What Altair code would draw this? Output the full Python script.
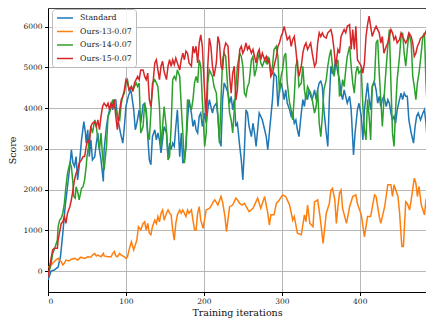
import altair as alt
import pandas as pd

series_names = ["Standard", "Ours-13-0.07", "Ours-14-0.07", "Ours-15-0.07"]
series_colors = ["#1f77b4", "#ff7f0e", "#2ca02c", "#d62728"]

std_x = [0,4,8,13,16,19,22,25,28,30,32,34,36,38,40,43,46,48,49,51,53,55,57,60,62,64,66,68,71,72,75,77,79,81,83,85,87,89,93,96,98,100,103,106,107,110,112,114,117,119,122,124,126,128,130,132,134,137,139,141,143,145,147,149,152,154,156,158,160,162,164,166,169,171,173,175,177,179,181,184,186,188,190,192,194,196,198,201,203,205,207,209,211,213,216,218,220,222,224,226,228,231,233,235,237,239,241,243,246,248,250,252,254,256,258,261,263,265,267,269,271,273,275,278,280,282,284,286,288,290,293,295,297,299,301,303,305,307,310,312,314,316,318,320,322,325,327,329,331,333,335,337,339,342,344,346,348,350,352,354,357,359,361,363,365,367,369,372,374,376,378,380,382,384,387,389,391,392,394,397,399,402,404,406,408,410,412,414,416,419,421,423,425,427,429,431,434,436,438,440,442,444,446,448,451,453,455,457,459,461,463,466,469,471,473,475,478,481,483,485,487,489,491,493]
std_y = [-220,0,25,100,350,930,1580,2070,2570,2980,2650,2570,2810,2240,2570,3220,3670,3390,3140,3470,2810,3220,2730,2810,3140,3390,2980,2730,2200,2980,3550,3800,3960,4120,3960,4200,4200,3800,3390,3140,3550,4040,4290,4450,4370,3960,3470,3630,3960,3630,4080,4120,3880,3300,2730,2610,3300,3470,3220,3390,3220,2900,3220,3550,3390,2810,3140,2980,3140,3060,3550,3960,2810,3390,2650,2730,3060,3710,4210,3880,3550,3710,3470,3390,3800,3880,3550,3880,3630,3960,4210,4040,3880,4040,4120,3800,3220,3060,4210,4620,4530,4370,4120,4290,3960,4210,3550,3630,3060,2730,2240,2980,3960,3880,3550,3300,3630,3390,3060,3470,3880,3800,3710,3470,3300,2980,3390,3800,4210,4860,4780,4040,4450,4620,4450,4210,4450,4120,3960,3800,3880,3630,3710,3470,3300,3880,4210,4040,4370,4210,4450,4290,4210,4450,4210,4450,4620,4660,4530,3960,3390,3060,4210,5030,4860,4900,5190,4860,4700,4370,4210,4450,4290,4120,4290,3960,3220,2850,3390,3960,4120,3800,3220,3960,4290,4620,4210,3960,4530,4620,4450,4120,4290,4040,4210,4290,4040,4210,4120,3880,3710,3800,3630,3960,4210,4370,4210,4370,4290,4290,3710,3390,3140,3550,3800,3880,3710,3880,3960,3630,3060,2440,3390,3600]

o13_x = [0,2,6,10,13,15,17,19,21,23,27,30,34,38,42,47,51,55,57,60,62,64,68,71,72,77,81,83,85,87,89,92,94,98,100,102,104,107,110,112,114,116,119,122,124,126,128,130,132,134,137,139,141,143,145,147,149,152,154,156,158,160,162,164,166,169,171,173,177,179,181,184,186,188,190,192,194,196,199,203,207,210,212,214,218,222,224,227,229,233,237,241,243,246,249,252,258,263,269,273,278,282,284,286,290,293,297,301,305,310,314,316,320,325,329,331,333,336,340,342,346,349,353,357,361,363,365,368,370,372,374,376,378,383,387,391,395,397,402,406,410,414,419,421,425,427,432,436,440,442,444,449,451,454,456,459,461,464,466,470,472,474,476,479,483,485,489,493]
o13_y = [100,100,190,270,310,250,230,150,190,270,250,290,310,270,340,310,350,340,390,430,370,390,350,430,370,350,350,430,480,370,350,430,390,350,310,350,520,720,520,640,760,1090,1010,1170,1210,1010,1170,930,890,1090,1250,1170,1340,1210,1420,1500,1250,1420,1500,1420,1380,1010,760,1170,1380,1500,1420,1500,1340,1500,1420,1500,1250,1010,1010,1420,1580,1250,1050,1500,1540,1620,1700,1750,1620,1830,1700,1340,970,1580,1620,1790,1750,1660,1620,1660,1460,1540,1790,1540,1830,1420,1130,1380,1380,1660,1750,1870,1830,1620,1250,1340,930,890,1380,1210,1620,1170,1090,1700,1750,1340,680,1420,1660,1990,2030,1750,1170,1580,1910,1990,1540,1170,1580,1830,1870,1660,1380,840,1340,1340,1870,1830,1340,1170,1580,2120,2120,1830,2120,1830,1460,600,600,1700,1660,1500,1750,2280,2160,1830,2080,1620,1380,1750,1910,2080]

o14_x = [0,4,6,8,12,13,15,17,19,21,23,25,28,30,32,33,35,36,38,40,43,45,47,49,50,52,53,55,57,60,62,64,66,68,70,72,75,77,79,81,83,85,87,89,92,94,96,98,100,102,104,107,109,111,113,115,117,119,122,124,126,128,130,132,134,137,139,141,143,145,147,149,152,154,156,158,160,162,164,166,169,171,173,175,177,179,181,184,186,188,190,192,194,196,198,201,203,205,207,209,211,213,216,218,220,222,224,226,228,231,233,235,237,239,241,243,246,248,250,252,254,256,258,261,263,265,267,269,271,273,275,278,280,282,284,286,288,290,293,295,297,299,301,303,305,307,310,312,314,316,318,320,322,325,327,329,331,333,335,337,339,342,344,346,348,350,352,354,357,359,361,363,365,367,369,372,374,376,378,380,382,384,387,389,391,393,395,397,399,402,404,406,408,410,412,414,416,419,421,423,425,427,429,431,434,436,438,440,442,444,446,448,451,453,455,457,459,461,463,466,468,470,472,474,476,478,481,483,485,487,489,491,493]
o14_y = [-140,190,430,520,760,1090,1250,1300,1420,1660,2070,2400,2650,2570,2160,1830,1790,2070,1950,1750,2030,2070,2240,2570,2810,3060,3220,3550,3390,3710,3550,3220,2980,3390,2810,2480,3060,3800,3880,4040,4210,4040,3960,3800,3710,4120,4290,4370,4620,4700,4450,4530,4450,4530,4620,4530,4620,3390,3550,4120,3960,3390,3220,3880,4620,4700,4620,4530,4040,3060,3550,4040,3470,2730,2810,3550,4700,4780,4700,4940,4780,4040,3390,2650,3060,4210,4120,3960,4210,4620,4780,4620,5190,5030,4210,3060,3390,4620,4940,4860,4780,4530,4370,3800,3140,4210,5190,5350,5270,4370,3880,3710,3390,3960,4500,5030,5350,5270,5030,4370,4290,4530,4620,5190,5270,4780,4940,5190,5350,5110,5030,5190,5110,5270,5110,4860,5030,5440,5520,5270,4370,4780,4940,5270,5350,4620,4120,3960,3710,4290,5030,5190,4530,4620,5030,4450,4210,4530,4450,4370,4210,3880,4040,4450,3630,3300,3800,4450,4700,5030,5270,5440,5030,4780,5030,5190,4290,4370,4700,4530,4940,5270,5520,5030,4620,4370,4860,5030,4860,4940,4040,3470,3220,4210,3800,3220,4530,4700,5600,5680,4860,4210,3550,4210,5030,5520,5930,4620,3390,3060,3960,4700,5270,5760,5850,5350,5030,5440,5850,5600,4780,4530,4210,4620,4860,5190,5760,5850,4620,3800,3300,4700,4620]

o15_x = [0,2,4,6,8,12,13,15,17,19,21,23,25,28,30,32,34,36,38,40,43,45,47,49,51,53,55,57,60,62,64,66,68,70,72,75,77,79,81,83,85,87,89,92,94,96,98,100,102,104,107,109,111,113,115,117,119,122,124,126,128,130,132,134,137,139,141,143,145,147,149,152,154,156,158,160,162,164,166,169,171,173,175,177,179,181,184,186,188,190,192,194,196,198,201,203,205,207,209,211,213,216,218,220,222,224,226,228,231,233,235,237,239,241,243,246,248,250,252,254,256,258,261,263,265,267,269,271,273,275,278,280,282,284,286,288,290,293,295,297,299,301,303,305,307,310,312,314,316,318,320,322,325,327,329,331,333,335,337,339,342,344,346,348,350,352,354,357,359,361,363,365,367,369,372,374,376,378,380,382,384,387,389,391,393,395,397,402,404,406,408,410,412,414,416,419,421,423,425,427,429,431,434,436,438,440,442,444,446,448,451,453,455,457,459,461,463,466,468,470,472,474,476,478,481,483,485,487,489,493]
o15_y = [-140,100,310,520,560,560,760,970,1170,1210,1340,1170,1420,1580,1750,1990,2240,2400,2480,2650,2730,2810,2810,3060,3220,3140,3550,3630,3670,3550,3710,3470,3800,4040,4120,4040,4120,3960,4120,4040,4210,3800,3470,3960,4210,4290,4450,4700,4620,4450,4530,4410,4620,4700,4780,4700,4940,4940,4780,4700,4860,4210,4040,4450,5110,5190,4940,4700,5030,5150,4900,4700,5030,5190,5030,5190,5070,5230,5110,4940,5190,5350,5190,5400,5350,5110,5030,5520,5350,5520,5110,5600,5800,5520,4370,3800,5030,5720,5520,5030,4780,5110,5760,5600,5030,4940,5440,5600,5520,4780,4370,4860,5030,4200,4450,5440,5520,5350,5440,5600,5440,5520,5350,5440,5270,5110,5350,5440,5190,5350,5190,5270,5110,5190,4780,4860,5030,5270,5520,5600,5760,5850,6010,5850,5680,5760,5520,5680,5760,5440,5030,4780,5030,5350,5520,5600,5440,5520,5600,5350,5030,5110,5600,5850,5760,5850,5760,5720,5850,5890,5930,5760,5440,5030,5440,5350,5760,5850,5930,5850,6010,6050,5440,5930,5440,6010,5190,5030,4860,5110,5760,6050,6260,6010,5760,5930,6010,5930,5850,5600,5760,5350,5520,5600,5760,5930,5850,5680,5760,5600,5680,5850,5760,5680,5600,5680,5850,5760,5600,5270,5350,5520,5600,5720,5760,5800,5890,5760,5520,5440]

x_ticks = [0, 100, 200, 300, 400]
y_ticks = [0, 1000, 2000, 3000, 4000, 5000, 6000]

frames = []
for i, (name, xs, ys) in enumerate(zip(series_names, [std_x, o13_x, o14_x, o15_x], [std_y, o13_y, o14_y, o15_y])):
    frames.append(pd.DataFrame({"iter": xs, "score": ys, "series": name, "k": i}))
df = pd.concat(frames, ignore_index=True)

serif = "DejaVu Serif"

chart = alt.Chart(df).mark_line(strokeWidth=1.5, clip=True).encode(
    x=alt.X("iter:Q", scale=alt.Scale(domain=[0, 485], nice=False, zero=False),
            axis=alt.Axis(values=x_ticks, title="Training iterations", format="d",
                          titlePadding=2, labelPadding=2)),
    y=alt.Y("score:Q", scale=alt.Scale(domain=[-515, 6460], nice=False, zero=False),
            axis=alt.Axis(values=y_ticks, title="Score", format="d")),
    color=alt.Color("series:N", sort=series_names,
                    scale=alt.Scale(domain=series_names, range=series_colors),
                    legend=alt.Legend(title=None, orient="none", legendX=4, legendY=1,
                                      symbolType="M-1,0L3,0", symbolSize=64, symbolStrokeWidth=1.5,
                                      labelFont=serif, labelFontSize=7.8, labelColor="#222",
                                      padding=4, rowPadding=4.5, labelOffset=14,
                                      strokeColor="#bbbbbb",
                                      fillColor="rgba(255,255,255,0.85)",
                                      cornerRadius=3)),
    detail="k:O",
).properties(
    width=378, height=284,
    autosize=alt.AutoSizeParams(type="none"),
    padding={"left": 40, "top": 0, "right": 0, "bottom": 26},
).configure_view(
    stroke="#444", strokeWidth=1
).configure_axis(
    labelFont=serif, labelFontSize=7.5, labelColor="#222",
    titleFont=serif, titleFontSize=9.5, titleFontWeight="normal", titleColor="#111",
    domainColor="#000", domainWidth=1, tickColor="#000", tickSize=3.5, tickWidth=1,
    labelPadding=2.5, titlePadding=5,
    gridColor="#b0b0b0", gridWidth=0.9,
)

chart.save("out.html", embed_options={"renderer": "svg", "actions": False})
